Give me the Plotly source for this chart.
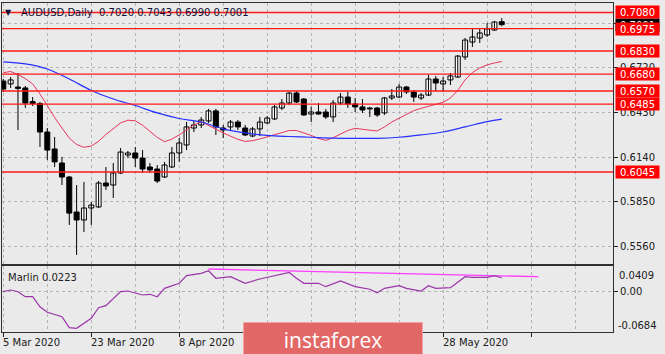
import plotly.graph_objects as go
import pandas as pd
import numpy as np

W, H = 665, 354

# ---------------- data ----------------
dates = pd.bdate_range("2020-03-05", periods=69)

opens = [0.6635, 0.6616, 0.6596, 0.6590, 0.6501, 0.6489, 0.6304, 0.6194, 0.6103, 0.6012,
         0.5785, 0.5733, 0.5811, 0.5818, 0.5973, 0.5960, 0.6038, 0.6155, 0.6168, 0.6135,
         0.6077, 0.6064, 0.6012, 0.6077, 0.6168, 0.6220, 0.6330, 0.6350, 0.6376, 0.6441,
         0.6330, 0.6337, 0.6369, 0.6330, 0.6278, 0.6324, 0.6363, 0.6389, 0.6460, 0.6492,
         0.6557, 0.6518, 0.6421, 0.6434, 0.6434, 0.6402, 0.6492, 0.6531, 0.6486, 0.6467,
         0.6460, 0.6460, 0.6428, 0.6525, 0.6531, 0.6596, 0.6564, 0.6525, 0.6544, 0.6648,
         0.6616, 0.6642, 0.6661, 0.6791, 0.6888, 0.6914, 0.6934, 0.6966, 0.7020]
highs = [0.6648, 0.6661, 0.6687, 0.6603, 0.6531, 0.6499, 0.6330, 0.6272, 0.6142, 0.6019,
         0.5960, 0.5980, 0.5850, 0.5986, 0.6077, 0.6103, 0.6200, 0.6181, 0.6207, 0.6187,
         0.6103, 0.6090, 0.6110, 0.6207, 0.6265, 0.6369, 0.6376, 0.6402, 0.6454, 0.6454,
         0.6350, 0.6382, 0.6382, 0.6350, 0.6337, 0.6402, 0.6408, 0.6479, 0.6518, 0.6564,
         0.6570, 0.6525, 0.6467, 0.6492, 0.6454, 0.6512, 0.6557, 0.6564, 0.6525, 0.6518,
         0.6467, 0.6467, 0.6531, 0.6583, 0.6616, 0.6603, 0.6577, 0.6557, 0.6674, 0.6668,
         0.6661, 0.6687, 0.6804, 0.6914, 0.6979, 0.6979, 0.7012, 0.7025, 0.7043]
lows = [0.6564, 0.6590, 0.6317, 0.6460, 0.6473, 0.6207, 0.6123, 0.6077, 0.5960, 0.5701,
        0.5506, 0.5655, 0.5701, 0.5811, 0.5928, 0.5876, 0.6032, 0.6135, 0.6077, 0.6038,
        0.6038, 0.5973, 0.6006, 0.6071, 0.6110, 0.6187, 0.6304, 0.6330, 0.6363, 0.6285,
        0.6265, 0.6317, 0.6317, 0.6278, 0.6272, 0.6278, 0.6356, 0.6382, 0.6447, 0.6479,
        0.6492, 0.6408, 0.6369, 0.6415, 0.6389, 0.6369, 0.6479, 0.6460, 0.6434, 0.6428,
        0.6402, 0.6402, 0.6415, 0.6512, 0.6525, 0.6551, 0.6499, 0.6512, 0.6538, 0.6570,
        0.6564, 0.6609, 0.6655, 0.6772, 0.6856, 0.6882, 0.6921, 0.6960, 0.6990]
closes = [0.6583, 0.6642, 0.6587, 0.6492, 0.6489, 0.6304, 0.6187, 0.6110, 0.6012, 0.5778,
          0.5733, 0.5811, 0.5830, 0.5973, 0.5954, 0.6038, 0.6174, 0.6168, 0.6135, 0.6064,
          0.6058, 0.5986, 0.6090, 0.6168, 0.6233, 0.6337, 0.6350, 0.6382, 0.6441, 0.6337,
          0.6317, 0.6369, 0.6337, 0.6285, 0.6324, 0.6369, 0.6395, 0.6467, 0.6492, 0.6557,
          0.6499, 0.6415, 0.6434, 0.6421, 0.6402, 0.6492, 0.6531, 0.6486, 0.6467, 0.6447,
          0.6454, 0.6415, 0.6525, 0.6538, 0.6596, 0.6564, 0.6531, 0.6544, 0.6648, 0.6622,
          0.6635, 0.6668, 0.6797, 0.6901, 0.6921, 0.6947, 0.6973, 0.7018, 0.7001]

ma_fast = [0.6689, 0.6697, 0.6677, 0.6651, 0.6616, 0.6551, 0.6476, 0.6398, 0.6330, 0.6265,
           0.6223, 0.6205, 0.6213, 0.6244, 0.6288, 0.6327, 0.6363, 0.6381, 0.6377, 0.6348,
           0.6309, 0.6269, 0.6241, 0.6258, 0.6286, 0.6319, 0.6350, 0.6371, 0.6346, 0.6320,
           0.6298, 0.6277, 0.6257, 0.6243, 0.6248, 0.6259, 0.6273, 0.6290, 0.6304, 0.6314,
           0.6314, 0.6300, 0.6282, 0.6262, 0.6250, 0.6267, 0.6291, 0.6314, 0.6328, 0.6324,
           0.6316, 0.6311, 0.6337, 0.6369, 0.6392, 0.6418, 0.6443, 0.6458, 0.6471, 0.6483,
           0.6497, 0.6525, 0.6574, 0.6642, 0.6690, 0.6720, 0.6740, 0.6752, 0.6762]

ma_slow_idx = [0, 3, 6, 9, 12, 15, 18, 21, 24, 27, 30, 33, 36, 39, 42, 45, 48, 51, 54, 57,
               60, 63, 66, 68]
ma_slow = [0.6759, 0.6746, 0.6713, 0.6648, 0.6574, 0.6518, 0.6476, 0.6428, 0.6392, 0.6369,
           0.6324, 0.6298, 0.6282, 0.6275, 0.6270, 0.6265, 0.6263, 0.6263, 0.6270, 0.6285,
           0.6304, 0.6337, 0.6372, 0.6388]

levels = [0.7080, 0.6975, 0.6830, 0.6680, 0.6570, 0.6485, 0.6045]
last_price = 0.7001

marlin_idx = [0, 1, 2, 3, 4, 5, 6, 8, 9, 10, 12, 13, 14, 16, 17, 19, 20, 21, 22, 24, 25, 27,
              28, 29, 31, 33, 35, 37, 39, 40, 41, 43, 44, 46, 48, 50, 51, 52, 54, 55, 57,
              58, 59, 61, 63, 64, 66, 67, 68]
marlin = [-0.0008, 0.0020, -0.0008, -0.0091, -0.0091, -0.0257, -0.0349, -0.0422, -0.0604,
          -0.0614, -0.0449, -0.0273, -0.0240, -0.0008, 0.0003, -0.0063, -0.0051, -0.0091,
          0.0048, 0.0131, 0.0257, 0.0296, 0.0339, 0.0214, 0.0240, 0.0131, 0.0202, 0.0257,
          0.0310, 0.0214, 0.0131, 0.0131, 0.0075, 0.0169, 0.0075, 0.0032, -0.0025, 0.0048,
          0.0091, 0.0048, 0.0003, 0.0091, 0.0048, 0.0058, 0.0240, 0.0230, 0.0230, 0.0257,
          0.0223]
signal_idx = [28, 38, 48, 59, 65, 73]
signal = [0.0368, 0.0339, 0.0313, 0.0285, 0.0257, 0.0240]

price_ticks = [0.5560, 0.5850, 0.6140, 0.6430, 0.6720, 0.7010]
osc_max_label, osc_min_label = 0.0409, -0.0684
date_tick_idx = [0, 12, 24, 36, 48, 60]
visible_date_idx = [0, 12, 24, 60]   # the other two are hidden under the logo
date_labels = [f"{d.day} {d.strftime('%b %Y')}" for d in dates[visible_date_idx]]

# ---------------- helpers ----------------
def px(xp):
    return xp / W

def py(yp):
    return 1 - yp / H

FONT = "DejaVu Sans"
BG = "#eaeaea"
GRID = "#b4b4b4"
n = len(dates)
x = np.arange(n)
o = np.array(opens)
c = np.array(closes)
up = c >= o

fig = go.Figure()

# wicks
wx, wy = [], []
for i in range(n):
    wx += [i, i, None]
    wy += [lows[i], highs[i], None]
fig.add_trace(go.Scatter(x=wx, y=wy, mode="lines", line=dict(color="black", width=1),
                         xaxis="x", yaxis="y", hoverinfo="skip"))
# bodies
fig.add_trace(go.Bar(x=x[up], base=o[up], y=(c - o)[up], width=0.68,
                     marker=dict(color="white", line=dict(color="black", width=1)),
                     xaxis="x", yaxis="y"))
fig.add_trace(go.Bar(x=x[~up], base=c[~up], y=(o - c)[~up], width=0.68,
                     marker=dict(color="black", line=dict(color="black", width=1)),
                     xaxis="x", yaxis="y"))
# moving averages
fig.add_trace(go.Scatter(x=x, y=ma_fast, mode="lines", line=dict(color="#e8365c", width=1),
                         xaxis="x", yaxis="y"))
fig.add_trace(go.Scatter(x=ma_slow_idx, y=ma_slow, mode="lines",
                         line=dict(color="#2430ff", width=1.2, shape="spline"),
                         xaxis="x", yaxis="y"))
# oscillator
fig.add_trace(go.Scatter(x=signal_idx, y=signal, mode="lines",
                         line=dict(color="#ff3cff", width=1.3), xaxis="x2", yaxis="y2"))
fig.add_trace(go.Scatter(x=marlin_idx, y=marlin, mode="lines",
                         line=dict(color="#9a35a8", width=1.2), xaxis="x2", yaxis="y2"))

# level lines
shapes = []
for lv in levels:
    shapes.append(dict(type="line", xref="x domain", yref="y", x0=0, x1=1, y0=lv, y1=lv,
                       line=dict(color="#ff1a1a", width=1.4), layer="above"))

xr = [-0.18, 83.18]
xdom = [px(2), px(613)]
grid_major = list(range(0, 84, 12))
grid_minor = list(range(6, 84, 12))

annotations = []
# header
annotations.append(dict(xref="paper", yref="paper", x=px(3), y=py(12), xanchor="left",
                        yanchor="middle", text="▼", showarrow=False,
                        font=dict(family=FONT, size=8, color="#101035")))
annotations.append(dict(xref="paper", yref="paper", x=px(19), y=py(12), xanchor="left",
                        yanchor="middle", showarrow=False,
                        text=f"AUDUSD,Daily  {opens[-1]:.4f} {highs[-1]:.4f} {lows[-1]:.4f} {closes[-1]:.4f}",
                        font=dict(family=FONT, size=10, color="#101035")))
# current price label
annotations.append(dict(xref="paper", yref="y", x=px(615), y=last_price, xanchor="left",
                        yanchor="middle", text=f"{last_price:.4f}", showarrow=False,
                        bgcolor="black", width=43, height=12, borderpad=0,
                        font=dict(family=FONT, size=10, color="white")))
for lv in levels:
    annotations.append(dict(xref="paper", yref="y", x=px(615), y=lv, xanchor="left",
                            yanchor="middle", text=f"{lv:.4f}", showarrow=False,
                            bgcolor="#ff0000", width=43, height=12, borderpad=0,
                            font=dict(family=FONT, size=10, color="white")))
# oscillator labels
annotations.append(dict(xref="paper", yref="paper", x=px(6), y=py(277), xanchor="left",
                        yanchor="middle", text=f"Marlin {marlin[-1]:.4f}", showarrow=False,
                        font=dict(family=FONT, size=10, color="#202020")))
annotations.append(dict(xref="paper", yref="paper", x=px(617), y=py(275), xanchor="left",
                        yanchor="middle", text=f"{osc_max_label:.4f}", showarrow=False,
                        font=dict(family=FONT, size=10, color="#202020")))
annotations.append(dict(xref="paper", yref="paper", x=px(616), y=py(325.5), xanchor="left",
                        yanchor="middle", text=f"{osc_min_label:.4f}", showarrow=False,
                        font=dict(family=FONT, size=10, color="#202020")))
# date labels
for idx, lab in zip(visible_date_idx, date_labels):
    annotations.append(dict(xref="x2", yref="paper", x=idx, y=py(342.5), xanchor="left",
                            yanchor="middle", text=lab, showarrow=False, xshift=-2,
                            font=dict(family=FONT, size=10, color="#202020")))
# logo
annotations.append(dict(xref="paper", yref="paper", x=px(243), y=py(322), xanchor="left",
                        yanchor="top", text="instaforex", showarrow=False,
                        bgcolor="#e26868", bordercolor="#f2a2a2", borderwidth=1,
                        width=178, height=34, borderpad=0,
                        font=dict(family="Open Sans", size=21, color="white")))

fig.update_layout(
    width=W, height=H, margin=dict(l=0, r=0, t=0, b=0),
    paper_bgcolor=BG, plot_bgcolor=BG, showlegend=False, barmode="overlay",
    shapes=shapes, annotations=annotations,
    xaxis=dict(domain=xdom, range=xr, anchor="y", showticklabels=False, ticks="",
               tickvals=grid_major + grid_minor, showgrid=True, gridcolor=GRID,
               griddash="dot", gridwidth=1, zeroline=False, showline=True, mirror=True,
               linecolor="#303030", linewidth=1),
    xaxis2=dict(domain=xdom, range=xr, anchor="y2", showticklabels=False, ticks="outside",
                ticklen=4, tickcolor="#202020", tickvals=grid_major, showgrid=True,
                gridcolor=GRID, griddash="dot", zeroline=False, showline=True, mirror=True,
                linecolor="#303030", linewidth=1,
                minor=dict(tickvals=grid_minor, showgrid=True, gridcolor=GRID,
                           griddash="dot", ticks="")),
    yaxis=dict(domain=[py(264), py(3)], range=[0.54475, 0.71414], side="right",
               anchor="x", tickvals=price_ticks,
               ticktext=[f"{v:.4f}" for v in price_ticks], ticks="outside", ticklen=4,
               tickcolor="#202020", tickfont=dict(family=FONT, size=10, color="#202020"),
               showgrid=True, gridcolor=GRID, griddash="dot", zeroline=False,
               showline=True, mirror=True, linecolor="#303030", linewidth=1),
    yaxis2=dict(domain=[py(332), py(266)], range=[-0.06754, 0.04173], side="right",
                anchor="x2", tickvals=[0], ticktext=["0.00"], ticks="outside", ticklen=4,
                tickcolor="#202020", tickfont=dict(family=FONT, size=10, color="#202020"),
                showgrid=True, gridcolor=GRID, griddash="dot", zeroline=False,
                showline=True, mirror=True, linecolor="#303030", linewidth=1),
)

fig.write_html("out.html")
